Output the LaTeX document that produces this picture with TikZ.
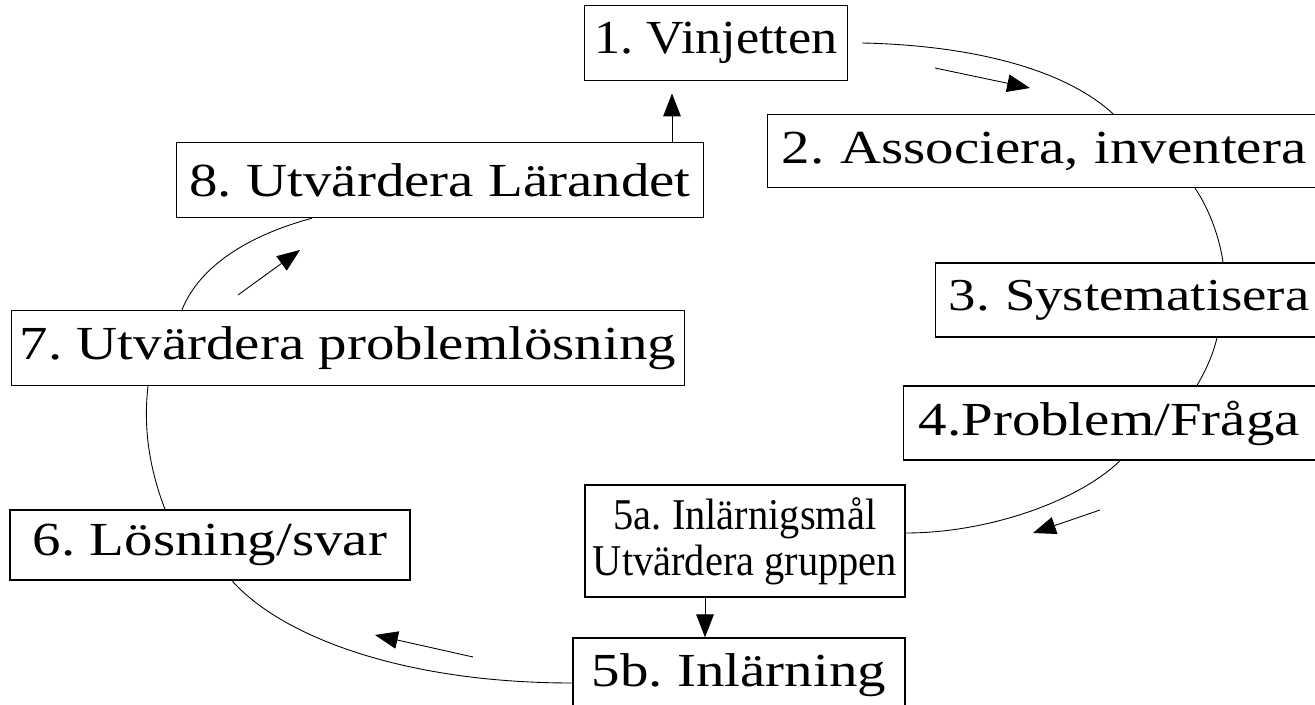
\documentclass[tikz,border=0pt]{standalone}
\usepackage{fontspec}
\setmainfont{Liberation Serif}[FakeStretch=1.2]
\newfontfamily\titlefont{Liberation Serif}[FakeStretch=1.1]
\newfontfamily\goalfont{Liberation Serif}[FakeStretch=0.92]
\usepackage{tikz}
\usetikzlibrary{calc}
\usetikzlibrary{positioning}
\usetikzlibrary{arrows.meta}

\tikzset{
  stepbox/.style={draw, line width=0.8pt, inner sep=0pt, font=\fontsize{27}{30}\selectfont},
  openbox/.style={stepbox, anchor=west, text width=12cm, align=left, inner xsep=0.28cm},
  loop/.style={line width=0.5pt},
  flow/.style={line width=0.5pt, -{Triangle[length=13pt,width=10pt]}}
}

\begin{document}
\frenchspacing
\begin{tikzpicture}[x=0.02cm, y=-0.02cm]
\clip (0,0) rectangle (1315,705);
\fill[white] (0,0) rectangle (1315,705);

% the eight steps
\node[stepbox, minimum width=5.26cm, minimum height=1.5cm, font=\titlefont\fontsize{27}{30}\selectfont] (v1) at (716,43) {1. Vinjetten};
\node[openbox, minimum height=1.46cm] (v2) at (767,151) {2. Associera, inventera};
\node[openbox, minimum height=1.48cm, inner xsep=0.26cm, font=\fontsize{26}{30}\selectfont] (v3) at (935,300) {3. Systematisera};
\node[openbox, minimum height=1.48cm, inner xsep=0.3cm] (v4) at (903,423) {4.Problem/Fråga};
\node[stepbox, minimum width=6.4cm, minimum height=2.24cm, align=center, font=\goalfont\fontsize{25}{26}\selectfont] (v5a) at (745,541) {5a. Inlärnigsmål\\Utvärdera gruppen};
\node[stepbox, minimum width=6.64cm, minimum height=1.48cm] (v5b) at (739,675) {5b. Inlärning};
\node[stepbox, minimum width=8cm, minimum height=1.4cm] (v6) at (210,545) {6. Lösning/svar};
\node[stepbox, minimum width=13.46cm, minimum height=1.5cm] (v7) at (348,348) {7. Utvärdera problemlösning};
\node[stepbox, minimum width=10.54cm, minimum height=1.5cm] (v8) at (440,180) {8. Utvärdera Lärandet};

% the cycle
\draw[loop] ($(v1.east)+(14,0)$) .. controls (960,45) and (1060,65) .. (v2.north -| 1113,0);
\draw[loop] (v2.south -| 1195,0) .. controls (1210,210) and (1220,240) .. (v3.north -| 1223,0);
\draw[loop] (v3.south -| 1217,0) .. controls (1213,355) and (1205,372) .. (v4.north -| 1197,0);
\draw[loop] (v4.south -| 1120,0) .. controls (1080,500) and (990,533) .. (v5a.east |- 0,533);
\draw[loop] (v6.south -| 232,0) .. controls (280,635) and (400,683) .. (v5b.west |- 0,683);
\draw[loop] (v6.north -| 165,0) .. controls (150,470) and (143,430) .. (v7.south -| 148,0);
\draw[loop] (v7.north -| 182,0) .. controls (200,265) and (250,235) .. (v8.south -| 312,0);

\draw[flow] (v5a.south -| 705,0) -- (v5b.north -| 705,0);
\draw[flow, shorten >=7pt] (v8.north -| 672,0) -- (v1.south -| 672,0);

% direction marks
\draw[flow] (935,68) -- (1030,88);
\draw[flow] (1100,510) -- (1033,533);
\draw[flow] (473,657) -- (375,635);
\draw[flow] (238,295) -- (300,250);
\end{tikzpicture}
\end{document}
